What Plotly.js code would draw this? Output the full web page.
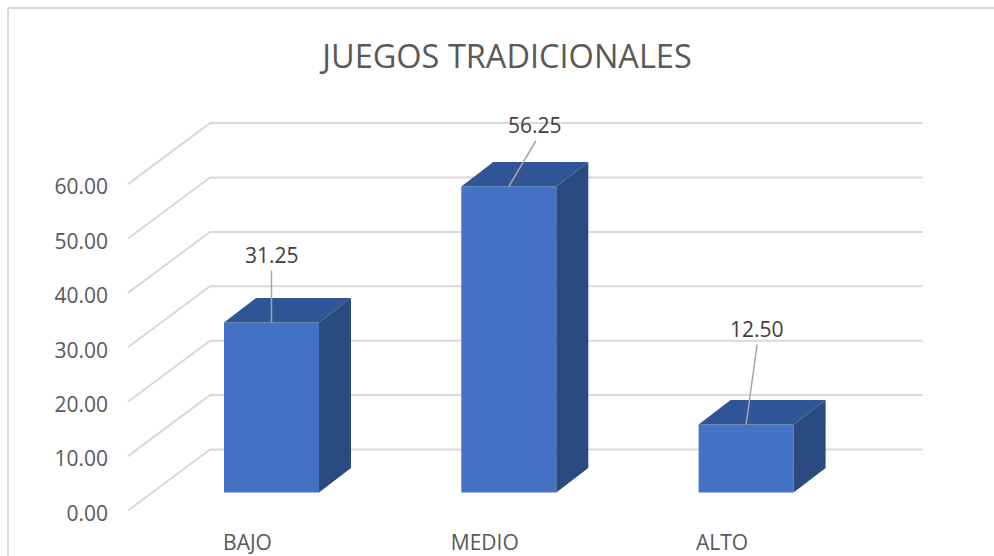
<!DOCTYPE html>
<html><head><meta charset="utf-8">
<script src="https://cdn.plot.ly/plotly-3.0.1.min.js"></script>
<style>html,body{margin:0;padding:0;background:#fff}#c{width:994px;height:556px}</style>
</head><body><div id="c"></div>
<script>
const categories = ['BAJO', 'MEDIO', 'ALTO'];
const values = [31.25, 56.25, 12.50];
const labels = ['31.25', '56.25', '12.50'];
const yTicks = [0, 10, 20, 30, 40, 50, 60];

// chart frame in pixels
const W = 994, H = 556;
const L = 120, R = 923, T = 115, B = 516;
const catPx = 237.3, unitPx = 5.44;   // scale of the front plane
const zeroX = 247.5, zeroY = 510.5;   // pixel of category 0 / value 0
const xAt = px => (px - zeroX) / catPx, yAt = px => (zeroY - px) / unitPx;
const xU = px => px / catPx, yU = px => px / unitPx;
const wallDx = xU(82), wallDy = yU(61);
const depthDx = xU(32), depthDy = yU(24.5);
const barOffX = xU(24), barBase = yU(18);
const barW = xU(95);
const gridX0 = xAt(128), gridX1 = xAt(922.5);
const FONT = 'Open Sans, Noto Sans, sans-serif';

const traces = [];
// front faces
traces.push({
  type: 'bar', x: categories.map((c, i) => i + barOffX), y: values,
  base: values.map(() => barBase), width: barW, showlegend: false,
  marker: {color: '#4472c4', line: {width: 0}}
});
// top and side faces, derived from the values
values.forEach((v, i) => {
  const x0 = i + barOffX - barW / 2, x1 = x0 + barW;
  const y0 = barBase, y1 = barBase + v;
  traces.push({
    type: 'scatter', mode: 'lines', fill: 'toself', fillcolor: '#2f5597', hoverinfo: 'skip', showlegend: false,
    x: [x0, x1, x1 + depthDx, x0 + depthDx, x0],
    y: [y1, y1, y1 + depthDy, y1 + depthDy, y1],
    line: {width: 0, color: '#2f5597'}
  });
  traces.push({
    type: 'scatter', mode: 'lines', fill: 'toself', fillcolor: '#2a4a80', hoverinfo: 'skip', showlegend: false,
    x: [x1, x1 + depthDx, x1 + depthDx, x1, x1],
    y: [y0, y0 + depthDy, y1 + depthDy, y1, y0],
    line: {width: 0, color: '#2a4a80'}
  });
});

// leader lines from the top of each bar towards its label
const leaderTail = [[0, 52], [27, 45.5], [11, 80]];
values.forEach((v, i) => {
  const x = i + barOffX, y = barBase + v;
  traces.push({
    type: 'scatter', mode: 'lines', hoverinfo: 'skip', showlegend: false,
    x: [x, x + xU(leaderTail[i][0])], y: [y, y + yU(leaderTail[i][1])],
    line: {color: '#a6a6a6', width: 1.5}
  });
});

// grid: floor diagonal + back-wall line for every tick, under the bars
const gridShapes = yTicks.map(v => ({
  type: 'path', xref: 'x', yref: 'y', layer: 'below',
  path: 'M' + gridX0 + ',' + v + ' L' + (gridX0 + wallDx) + ',' + (v + wallDy) + ' L' + gridX1 + ',' + (v + wallDy),
  line: {color: '#d9d9d9', width: 2}
}));

const labelOffset = [[0, 68], [26, 62], [11, 96]];
const annotations = values.map((v, i) => ({
  x: i + barOffX, y: barBase + v, xref: 'x', yref: 'y',
  text: labels[i], showarrow: false, xanchor: 'center', yanchor: 'middle',
  xshift: labelOffset[i][0], yshift: labelOffset[i][1],
  font: {family: FONT, size: 21, color: '#404040'}
}));

const frameX = x => (x - L) / (R - L), frameY = y => (B - y) / (B - T);
const layout = {
  width: W, height: H, autosize: false, showlegend: false,
  paper_bgcolor: '#fff', plot_bgcolor: 'rgba(0,0,0,0)',
  margin: {l: L, r: W - R, t: T, b: H - B, pad: 0},
  barmode: 'overlay',
  title: {text: 'JUEGOS TRADICIONALES', x: 507 / W, xanchor: 'center', y: 1 - 57 / H, yanchor: 'middle',
    font: {family: FONT, size: 32.5, color: '#595959'}},
  xaxis: {range: [xAt(L), xAt(R)], tickmode: 'array', tickvals: categories.map((c, i) => i), ticktext: categories,
    showgrid: false, zeroline: false, showline: false, ticks: '', automargin: false, ticklabelstandoff: 12,
    tickfont: {family: FONT, size: 21, color: '#595959'}},
  yaxis: {range: [yAt(B), yAt(T)], tickmode: 'array', tickvals: yTicks, tickformat: '.2f',
    showgrid: false, zeroline: false, showline: false, ticks: '', automargin: false, ticklabelstandoff: 11, ticklabelshift: 3,
    tickfont: {family: FONT, size: 21, color: '#595959'}},
  annotations,
  shapes: gridShapes.concat([
    {type: 'line', xref: 'paper', yref: 'paper', layer: 'below', x0: frameX(8), x1: frameX(8), y0: frameY(H), y1: frameY(8), line: {color: '#d9d9d9', width: 2}},
    {type: 'line', xref: 'paper', yref: 'paper', layer: 'below', x0: frameX(8), x1: frameX(994), y0: frameY(8), y1: frameY(8), line: {color: '#d9d9d9', width: 2}}
  ])
};
Plotly.newPlot('c', traces, layout, {displayModeBar: false, staticPlot: true});
</script></body></html>
